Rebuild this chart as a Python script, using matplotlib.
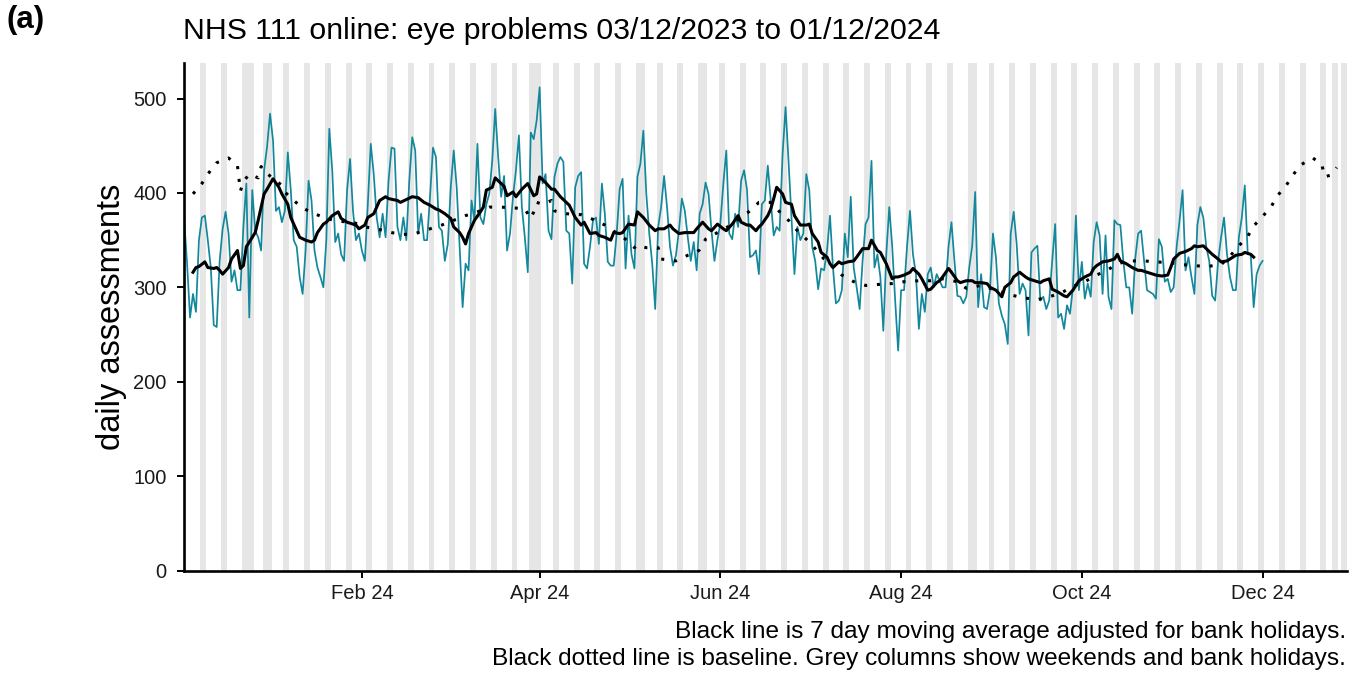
import pandas as pd
import matplotlib
matplotlib.use("Agg")
import matplotlib.pyplot as plt
import matplotlib.dates as mdates

plt.rcParams['font.family'] = ['Liberation Sans', 'DejaVu Sans']

# dates are given as day offsets from the first day (Sun 03/12/2023)
start_date = pd.Timestamp("2023-12-03")

# daily assessments, 03/12/2023 .. 01/12/2024
daily = [
    372, 325, 268, 293, 274, 350, 374, 376, 350, 321, 260, 258, 328, 362, 380,
    357, 306, 318, 297, 297, 364, 410, 268, 403, 360, 353, 339, 424, 449, 484,
    456, 381, 385, 369, 381, 443, 403, 350, 343, 311, 293, 339, 413, 392, 339,
    321, 311, 300, 350, 468, 424, 348, 357, 335, 328, 403, 436, 381, 350, 357,
    339, 328, 388, 452, 420, 374, 353, 378, 353, 413, 448, 447, 364, 350, 374,
    350, 413, 459, 445, 357, 378, 350, 350, 396, 448, 438, 364, 360, 328, 346,
    406, 445, 406, 343, 279, 325, 318, 392, 371, 452, 374, 367, 388, 399, 434,
    489, 438, 396, 418, 339, 357, 396, 424, 461, 385, 353, 316, 464, 457, 477,
    512, 410, 420, 360, 351, 417, 431, 438, 433, 360, 357, 304, 406, 418, 422,
    325, 320, 343, 371, 374, 346, 410, 378, 327, 323, 323, 357, 404, 415, 320,
    376, 335, 320, 417, 431, 466, 399, 357, 325, 277, 364, 385, 418, 385, 343,
    323, 334, 360, 394, 381, 353, 328, 348, 318, 378, 388, 411, 399, 360, 328,
    350, 368, 410, 445, 357, 351, 378, 364, 413, 424, 403, 332, 334, 339, 314,
    388, 392, 429, 392, 355, 364, 360, 441, 491, 434, 374, 314, 364, 350, 357,
    420, 403, 343, 328, 298, 320, 318, 339, 376, 321, 283, 286, 297, 357, 332,
    396, 321, 300, 277, 328, 367, 374, 434, 321, 335, 311, 254, 335, 385, 343,
    286, 233, 297, 297, 343, 381, 335, 314, 256, 293, 274, 314, 321, 300, 314,
    307, 300, 300, 343, 369, 328, 291, 290, 283, 290, 321, 344, 401, 279, 314,
    279, 277, 297, 357, 332, 283, 270, 261, 240, 357, 380, 346, 293, 304, 297,
    249, 337, 341, 344, 286, 290, 277, 286, 328, 367, 268, 272, 256, 281, 272,
    300, 376, 297, 327, 288, 304, 290, 348, 369, 355, 293, 355, 290, 277, 371,
    367, 366, 328, 300, 300, 272, 330, 357, 360, 328, 297, 295, 293, 288, 351,
    343, 306, 309, 295, 300, 343, 371, 403, 318, 332, 311, 293, 366, 385, 374,
    343, 328, 291, 286, 328, 353, 374, 335, 311, 297, 297, 353, 374, 408, 335,
    335, 279, 314, 323, 328,
]

# 7 day moving average (adjusted for bank holidays)
ma_day = [
    3, 4, 5, 7, 8, 10, 11, 12, 13, 15, 16, 18, 19, 20, 21, 23, 24, 25, 27, 28,
    30, 32, 33, 35, 36, 38, 39, 41, 43, 44, 45, 47, 48, 50, 52, 53, 55, 57, 58, 59,
    61, 62, 64, 66, 68, 69, 72, 73, 75, 77, 79, 81, 83, 85, 86, 88, 90, 91, 93, 94,
    95, 96, 98, 100, 101, 102, 104, 105, 107, 108, 109, 111, 112, 114, 116, 118, 119, 120, 122, 124,
    125, 127, 129, 130, 132, 134, 135, 137, 139, 140, 142, 144, 145, 147, 148, 150, 152, 153, 155, 157,
    159, 160, 162, 164, 165, 167, 169, 170, 172, 173, 175, 177, 178, 180, 182, 183, 185, 187, 188, 190,
    191, 193, 194, 195, 197, 198, 199, 200, 202, 203, 205, 206, 208, 210, 211, 212, 214, 215, 217, 218,
    219, 221, 222, 224, 226, 227, 229, 231, 232, 234, 235, 237, 239, 240, 241, 243, 245, 246, 248, 249,
    251, 252, 254, 255, 256, 258, 259, 261, 262, 264, 266, 267, 269, 271, 272, 274, 276, 277, 279, 280,
    282, 284, 285, 287, 289, 290, 292, 293, 295, 297, 298, 300, 301, 302, 304, 306, 307, 308, 310, 312,
    314, 315, 316, 318, 320, 322, 323, 325, 327, 328, 330, 332, 333, 334, 336, 338, 340, 341, 342, 344,
    345, 347, 349, 350, 352, 354, 355, 357, 358, 360, 361,
]
ma_value = [
    316, 321, 322, 327, 321, 320, 321, 318, 314, 321, 330, 339, 320, 323, 343, 353, 358, 371, 399, 404,
    415, 406, 399, 388, 374, 360, 353, 350, 348, 350, 358, 367, 369, 376, 380, 373, 369, 367, 366, 362,
    366, 374, 378, 392, 396, 394, 392, 390, 393, 396, 395, 390, 387, 383, 382, 378, 373, 364, 358, 353,
    346, 357, 371, 380, 385, 403, 406, 416, 410, 407, 397, 401, 396, 404, 410, 397, 399, 417, 411, 404,
    404, 396, 390, 387, 374, 366, 369, 357, 358, 355, 353, 350, 358, 357, 358, 367, 366, 380, 374, 366,
    360, 362, 362, 366, 362, 357, 358, 358, 358, 362, 369, 362, 360, 367, 362, 360, 367, 376, 369, 366,
    366, 360, 364, 367, 376, 383, 394, 406, 399, 390, 388, 376, 366, 366, 367, 357, 348, 337, 332, 325,
    321, 327, 325, 327, 328, 332, 341, 341, 350, 339, 337, 325, 309, 311, 311, 313, 316, 320, 314, 309,
    297, 298, 305, 307, 311, 320, 316, 307, 305, 307, 307, 305, 305, 304, 300, 297, 290, 300, 305, 311,
    316, 311, 309, 307, 305, 307, 309, 298, 295, 291, 290, 297, 302, 307, 311, 314, 320, 323, 327, 328,
    330, 335, 328, 325, 321, 318, 318, 316, 314, 313, 312, 313, 321, 330, 336, 338, 341, 344, 343, 344,
    341, 335, 330, 327, 328, 332, 334, 335, 337, 335, 332,
]

# baseline (dotted), runs on to late December 2024
base_day = [
    3, 6, 8, 11, 15, 18, 19, 20, 22, 25, 26, 27, 33, 34, 37, 40, 44, 48, 52, 57,
    61, 65, 70, 74, 78, 83, 87, 95, 99, 103, 107, 112, 115, 117, 118, 119, 121, 124, 125, 129,
    134, 138, 142, 149, 152, 153, 156, 160, 161, 166, 170, 173, 174, 176, 184, 191, 194, 198, 201, 204,
    207, 210, 213, 216, 222, 226, 230, 234, 239, 243, 248, 252, 256, 261, 264, 269, 279, 283, 288, 292,
    296, 300, 304, 308, 312, 315, 319, 324, 328, 333, 337, 341, 345, 350, 353, 356, 359, 361, 364, 367,
    369, 372, 374, 377, 381, 384, 385, 387, 389,
]
base_value = [
    399, 410, 420, 432, 437, 429, 402, 412, 420, 416, 428, 423, 408, 401, 392, 384, 378, 373, 370, 369,
    364, 362, 358, 356, 357, 362, 366, 376, 380, 385, 385, 384, 383, 373, 380, 390, 388, 392, 381, 378,
    377, 372, 366, 351, 342, 345, 342, 342, 330, 328, 334, 337, 340, 351, 365, 381, 390, 390, 380, 371,
    360, 351, 341, 330, 313, 306, 302, 303, 304, 306, 307, 307, 309, 306, 299, 302, 292, 289, 287, 290,
    294, 301, 306, 313, 319, 325, 328, 328, 327, 326, 324, 323, 322, 324, 333, 344, 354, 365, 375, 386,
    397, 408, 418, 430, 437, 430, 417, 419, 427,
]

# bank holidays shown as grey columns (weekends are added from the calendar)
bank_holidays = ["2023-12-25", "2023-12-26", "2024-01-01", "2024-03-29", "2024-04-01",
                 "2024-05-06", "2024-05-27", "2024-08-26", "2024-12-25", "2024-12-26"]

title_text = "NHS 111 online: eye problems 03/12/2023 to 01/12/2024"
caption_text = ("Black line is 7 day moving average adjusted for bank holidays.\n"
                "Black dotted line is baseline. Grey columns show weekends and bank holidays.")

daily_dates = start_date + pd.to_timedelta(range(len(daily)), unit="D")
ma_dates = start_date + pd.to_timedelta(ma_day, unit="D")
base_dates = start_date + pd.to_timedelta(base_day, unit="D")

all_days = pd.date_range("2023-12-02", "2024-12-29", freq="D")
grey_days = all_days[all_days.dayofweek >= 5].union(pd.DatetimeIndex(bank_holidays))

y_top = 538

fig = plt.figure(figsize=(13.55, 6.75), dpi=100)
ax = fig.add_axes([183.5 / 1355, 1 - 570.5 / 675, (1347 - 183.5) / 1355, (570.5 - 62.7) / 675])

ax.bar(grey_days, y_top, width=1.0, color="#e6e6e6", linewidth=0, zorder=0)
ax.plot(daily_dates, daily, color="#13889c", linewidth=1.25, zorder=2)
ax.plot(base_dates, base_value, color="black", linewidth=2.2,
        linestyle=(0, (1, 3.2)), zorder=3)
ax.plot(ma_dates, ma_value, color="black", linewidth=2.2, zorder=4)

ax.set_xlim(start_date - pd.Timedelta(hours=5), pd.Timestamp("2024-12-29 12:00"))
ax.set_ylim(0, y_top)
ax.set_yticks([0, 100, 200, 300, 400, 500])

ax.xaxis.set_major_locator(mdates.MonthLocator(bymonth=[2, 4, 6, 8, 10, 12]))
ax.xaxis.set_major_formatter(mdates.DateFormatter("%b %y"))

for side in ["top", "right"]:
    ax.spines[side].set_visible(False)
for side in ["left", "bottom"]:
    ax.spines[side].set_linewidth(1.9)
ax.tick_params(axis="both", length=5, width=1.4, labelsize=14.5, color="black",
               labelcolor="#1a1a1a", pad=5)
ax.tick_params(axis="y", pad=7)

fig.text(112 / 1355, 1 - 316.5 / 675, "daily assessments", rotation=90,
         fontsize=23.5, ha="center", va="center")
fig.text(183 / 1355, 1 - 31 / 675, title_text, fontsize=21.8, ha="left", va="center")
fig.text(7 / 1355, 1 - 20 / 675, "(a)", fontsize=22.5, fontweight="bold", ha="left", va="center")
fig.text(1346 / 1355, 1 - 645.5 / 675, caption_text, fontsize=17.6, ha="right", va="center",
         multialignment="right", linespacing=1.3)

fig.savefig("out.png", dpi=100)
